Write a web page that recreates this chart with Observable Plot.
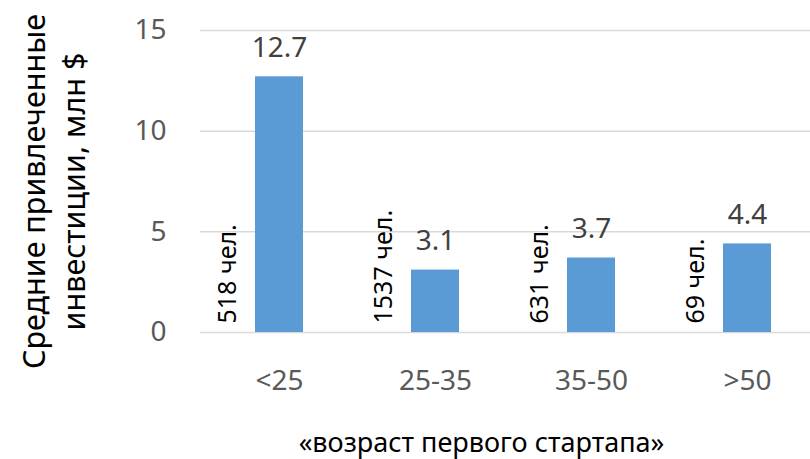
<!DOCTYPE html>
<html>
<head>
<meta charset="utf-8">
<script src="https://cdn.jsdelivr.net/npm/d3@7"></script>
<script src="https://cdn.jsdelivr.net/npm/@observablehq/plot@0.6"></script>
<style>
  html, body { margin: 0; padding: 0; background: #fff; overflow: hidden; }
</style>
</head>
<body>
<div id="chart"></div>
<script>
const categories = ["<25", "25-35", "35-50", ">50"];
const values = [12.7, 3.1, 3.7, 4.4];
const counts = ["518 чел.", "1537 чел.", "631 чел.", "69 чел."];
const yTicks = [0, 5, 10, 15];
const yTitle = ["Средние привлеченные", "инвестиции, млн $"];
const xTitle = "«возраст первого стартапа»";

const data = categories.map((c, i) => ({cat: c, value: values[i], count: counts[i]}));
const font = "'Noto Sans', 'Open Sans', sans-serif";

const chart = Plot.plot({
  width: 810,
  height: 459,
  marginLeft: 200,
  marginRight: 0,
  marginTop: 30,
  marginBottom: 127,
  style: {fontFamily: font, background: "#fff"},
  x: {domain: categories, range: [200, 826], paddingInner: 0.69, paddingOuter: 0.345},
  y: {domain: [0, 15]},
  marks: [
    Plot.ruleY(yTicks, {stroke: "#d9d9d9", strokeWidth: 1.5}),
    Plot.barY(data, {x: "cat", y: "value", fill: "#5B9BD5"}),
    Plot.axisY({ticks: yTicks, tickSize: 0, tickPadding: 34, fontSize: 28, fill: "#595959", label: null}),
    Plot.axisX({tickSize: 0, tickPadding: 38, fontSize: 28, fill: "#595959", label: null}),
    Plot.text(data, {x: "cat", y: "value", text: d => d.value.toFixed(1), dy: -29, lineAnchor: "middle", fontSize: 28, fill: "#404040"}),
    Plot.text(data, {x: "cat", y: 0, text: "count", rotate: -90, textAnchor: "start", lineAnchor: "middle", dx: -52, dy: -9, fontSize: 25, fill: "#000"}),
    Plot.text([yTitle[0]], {frameAnchor: "left", text: d => d, rotate: -90, textAnchor: "middle", dx: -165, dy: 10, fontSize: 30.5, fill: "#000", lineAnchor: "middle"}),
    Plot.text([yTitle[1]], {frameAnchor: "left", text: d => d, rotate: -90, textAnchor: "middle", dx: -125, dy: 10, fontSize: 30.5, fill: "#000", lineAnchor: "middle"}),
    Plot.text([xTitle], {frameAnchor: "bottom", text: d => d, textAnchor: "middle", dx: -24, dy: 111, fontSize: 27, fill: "#000", lineAnchor: "middle"})
  ]
});
document.getElementById("chart").appendChild(chart);
</script>
</body>
</html>
